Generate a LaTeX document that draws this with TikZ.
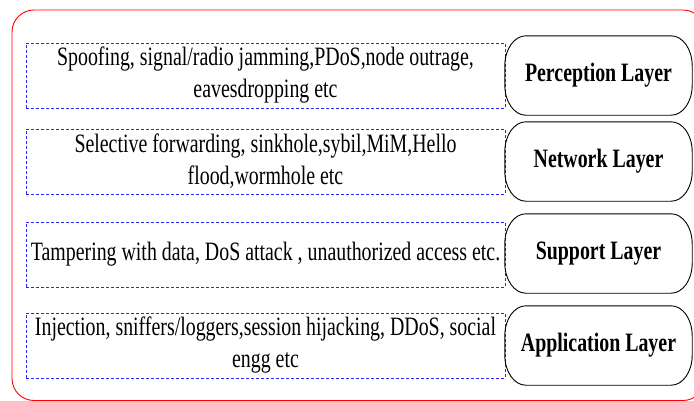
\documentclass[tikz,border=0pt]{standalone}
\usepackage{fontspec}
\usetikzlibrary{calc}
\setmainfont{Liberation Serif}[FakeStretch=0.75]
\newcommand\layeroutline[1]{%
  \draw[layerline] ($(#1.north west)+(21,0)$) -- ($(#1.north east)+(-21,0)$)
    .. controls ($(#1.north east)+(-9.4,0)$) and ($(#1.north east)+(0,13.4)$) .. ($(#1.north east)+(0,30)$)
    -- ($(#1.south east)+(0,-30)$)
    .. controls ($(#1.south east)+(0,-13.4)$) and ($(#1.south east)+(-9.4,0)$) .. ($(#1.south east)+(-21,0)$)
    -- ($(#1.south west)+(21,0)$)
    .. controls ($(#1.south west)+(9.4,0)$) and ($(#1.south west)+(0,-13.4)$) .. ($(#1.south west)+(0,-30)$)
    -- ($(#1.north west)+(0,30)$)
    .. controls ($(#1.north west)+(0,13.4)$) and ($(#1.north west)+(9.4,0)$) .. cycle;}
\begin{document}
\begin{tikzpicture}[x=1pt,y=-1pt,
  attack/.style={draw=blue!85!white, dash pattern=on 3pt off 2pt, line width=0.9pt,
    minimum width=479pt, minimum height=65pt, inner sep=0pt, align=center,
    font=\fontsize{26.5}{32}\selectfont},
  layer/.style={minimum width=187pt, minimum height=79pt, inner sep=0pt, align=center,
    font=\fontsize{26.5}{32}\selectfont\bfseries},
  layerline/.style={draw=black, line width=0.9pt}]
\useasboundingbox (0,0) rectangle (694,400);
\clip (0,0) rectangle (694,400);
\draw[red, line width=0.9pt, rounded corners=22pt] (12,10) rectangle (705,400.5);
\node[attack] (a1) at (265.5,75.5) {Spoofing, signal/radio jamming,PDoS,node outrage,\\eavesdropping etc};
\node[attack] (a2) at (265.5,161.5) {Selective forwarding, sinkhole,sybil,MiM,Hello\\flood,wormhole etc};
\node[attack] (a3) at (265.5,254.5) {Tampering with data, DoS attack , unauthorized access etc.};
\node[attack] (a4) at (265.5,345.5) {Injection, sniffers/loggers,session hijacking, DDoS, social\\engg etc};
\node[layer] (l1) at (598.5,75.5) {Perception Layer};
\node[layer] (l2) at (598.5,161.5) {Network Layer};
\node[layer] (l3) at (598.5,253.5) {Support Layer};
\node[layer] (l4) at (598.5,345.5) {Application Layer};
\layeroutline{l1}
\layeroutline{l2}
\layeroutline{l3}
\layeroutline{l4}
\end{tikzpicture}
\end{document}
